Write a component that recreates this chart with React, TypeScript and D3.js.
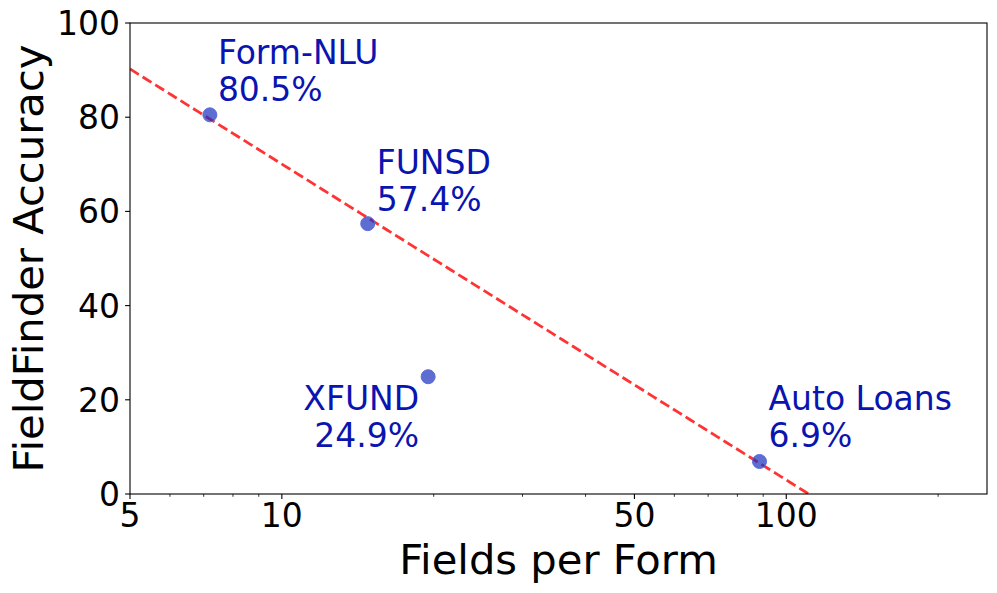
import React from "react";
import * as d3 from "d3";

const datasets = ["Form-NLU", "FUNSD", "XFUND", "Auto Loans"];
const fieldsPerForm = [7.2, 14.8, 19.5, 88.5];
const accuracy = [80.5, 57.4, 24.9, 6.9];
const inFit = [true, true, false, true];
const xMajorTicks = [5, 10, 50, 100];
const xMinorTicks = [6, 7, 8, 9, 20, 30, 40, 60, 70, 80, 90, 200];
const yTicks = [0, 20, 40, 60, 80, 100];
const xDomain = [5, 250];
const yDomain = [0, 100];

// label placement: anchor and pixel offset of first baseline from the point
const labelStyle = [
  { anchor: "start", dx: 8, dy: -51 },
  { anchor: "start", dx: 9, dy: -50 },
  { anchor: "end", dx: -9, dy: 33 },
  { anchor: "start", dx: 9, dy: -52 },
];

const W = 997;
const H = 593;
const M = { left: 130, right: 987, top: 23, bottom: 494 };
const FONT = "DejaVu Sans, Verdana, sans-serif";

export default function App() {
  const x = d3.scaleLog().domain(xDomain).range([M.left, M.right]);
  const y = d3.scaleLinear().domain(yDomain).range([M.bottom, M.top]);

  // least-squares fit of accuracy vs log10(fields)
  const fx = fieldsPerForm.filter((_, i) => inFit[i]).map((v) => Math.log10(v));
  const fy = accuracy.filter((_, i) => inFit[i]);
  const mx = d3.mean(fx)!;
  const my = d3.mean(fy)!;
  let sxx = 0,
    sxy = 0;
  fx.forEach((v, i) => {
    sxx += (v - mx) * (v - mx);
    sxy += (v - mx) * (fy[i] - my);
  });
  const slope = sxy / sxx;
  const intercept = my - slope * mx;
  const fitPts = d3.range(0, 201).map((i) => {
    const lx = Math.log10(xDomain[0]) + (i / 200) * (Math.log10(xDomain[1]) - Math.log10(xDomain[0]));
    return [Math.pow(10, lx), intercept + slope * lx] as [number, number];
  });
  const line = d3
    .line<[number, number]>()
    .x((d) => x(d[0]))
    .y((d) => y(d[1]));

  const lineH = 37;

  return (
    <svg width={W} height={H} style={{ display: "block", position: "absolute", left: 0, top: 0 }} fontFamily={FONT}>
      <rect x={0} y={0} width={W} height={H} fill="#fff" />
      <defs>
        <clipPath id="plotclip">
          <rect x={M.left} y={M.top} width={M.right - M.left} height={M.bottom - M.top} />
        </clipPath>
      </defs>
      <g clipPath="url(#plotclip)">
        <path
          d={line(fitPts) || ""}
          fill="none"
          stroke="#ff0000"
          strokeOpacity={0.8}
          strokeWidth={2.8}
          strokeDasharray="10.4 4.5"
        />
      </g>
      {datasets.map((name, i) => (
        <circle
          key={name}
          cx={x(fieldsPerForm[i])}
          cy={y(accuracy[i])}
          r={7}
          fill="#1a2fbf"
          fillOpacity={0.7}
          stroke="#5a6ad8"
          strokeWidth={1}
        />
      ))}
      {datasets.map((name, i) => {
        const ls = labelStyle[i];
        const px = x(fieldsPerForm[i]) + ls.dx;
        const py = y(accuracy[i]) + ls.dy;
        return (
          <text key={name} x={px} y={py} fontSize={33} fill="#0a14b0" textAnchor={ls.anchor as any}>
            <tspan x={px} y={py}>{name}</tspan>
            <tspan x={px} y={py + lineH}>{accuracy[i].toFixed(1) + "%"}</tspan>
          </text>
        );
      })}
      {/* frame */}
      <rect
        x={M.left}
        y={M.top}
        width={M.right - M.left}
        height={M.bottom - M.top}
        fill="none"
        stroke="#000"
        strokeWidth={1.1}
      />
      {/* x ticks */}
      {xMajorTicks.map((t) => (
        <g key={"xt" + t}>
          <line x1={x(t)} x2={x(t)} y1={M.bottom} y2={M.bottom + 4.9} stroke="#000" strokeWidth={1.1} />
          <text x={x(t)} y={M.bottom + 33} fontSize={33} textAnchor="middle" fill="#000">
            {t}
          </text>
        </g>
      ))}
      {xMinorTicks.map((t) => (
        <line key={"xm" + t} x1={x(t)} x2={x(t)} y1={M.bottom} y2={M.bottom + 2.8} stroke="#000" strokeWidth={0.8} />
      ))}
      {/* y ticks */}
      {yTicks.map((t) => (
        <g key={"yt" + t}>
          <line x1={M.left - 4.9} x2={M.left} y1={y(t)} y2={y(t)} stroke="#000" strokeWidth={1.1} />
          <text x={M.left - 10} y={y(t) + 12} fontSize={33} textAnchor="end" fill="#000">
            {t}
          </text>
        </g>
      ))}
      <text x={(M.left + M.right) / 2} y={574} fontSize={41.7} textAnchor="middle" fill="#000">
        Fields per Form
      </text>
      <text
        transform={`translate(43, ${(M.top + M.bottom) / 2}) rotate(-90)`}
        fontSize={41.7}
        textAnchor="middle"
        fill="#000"
      >
        FieldFinder Accuracy
      </text>
    </svg>
  );
}
